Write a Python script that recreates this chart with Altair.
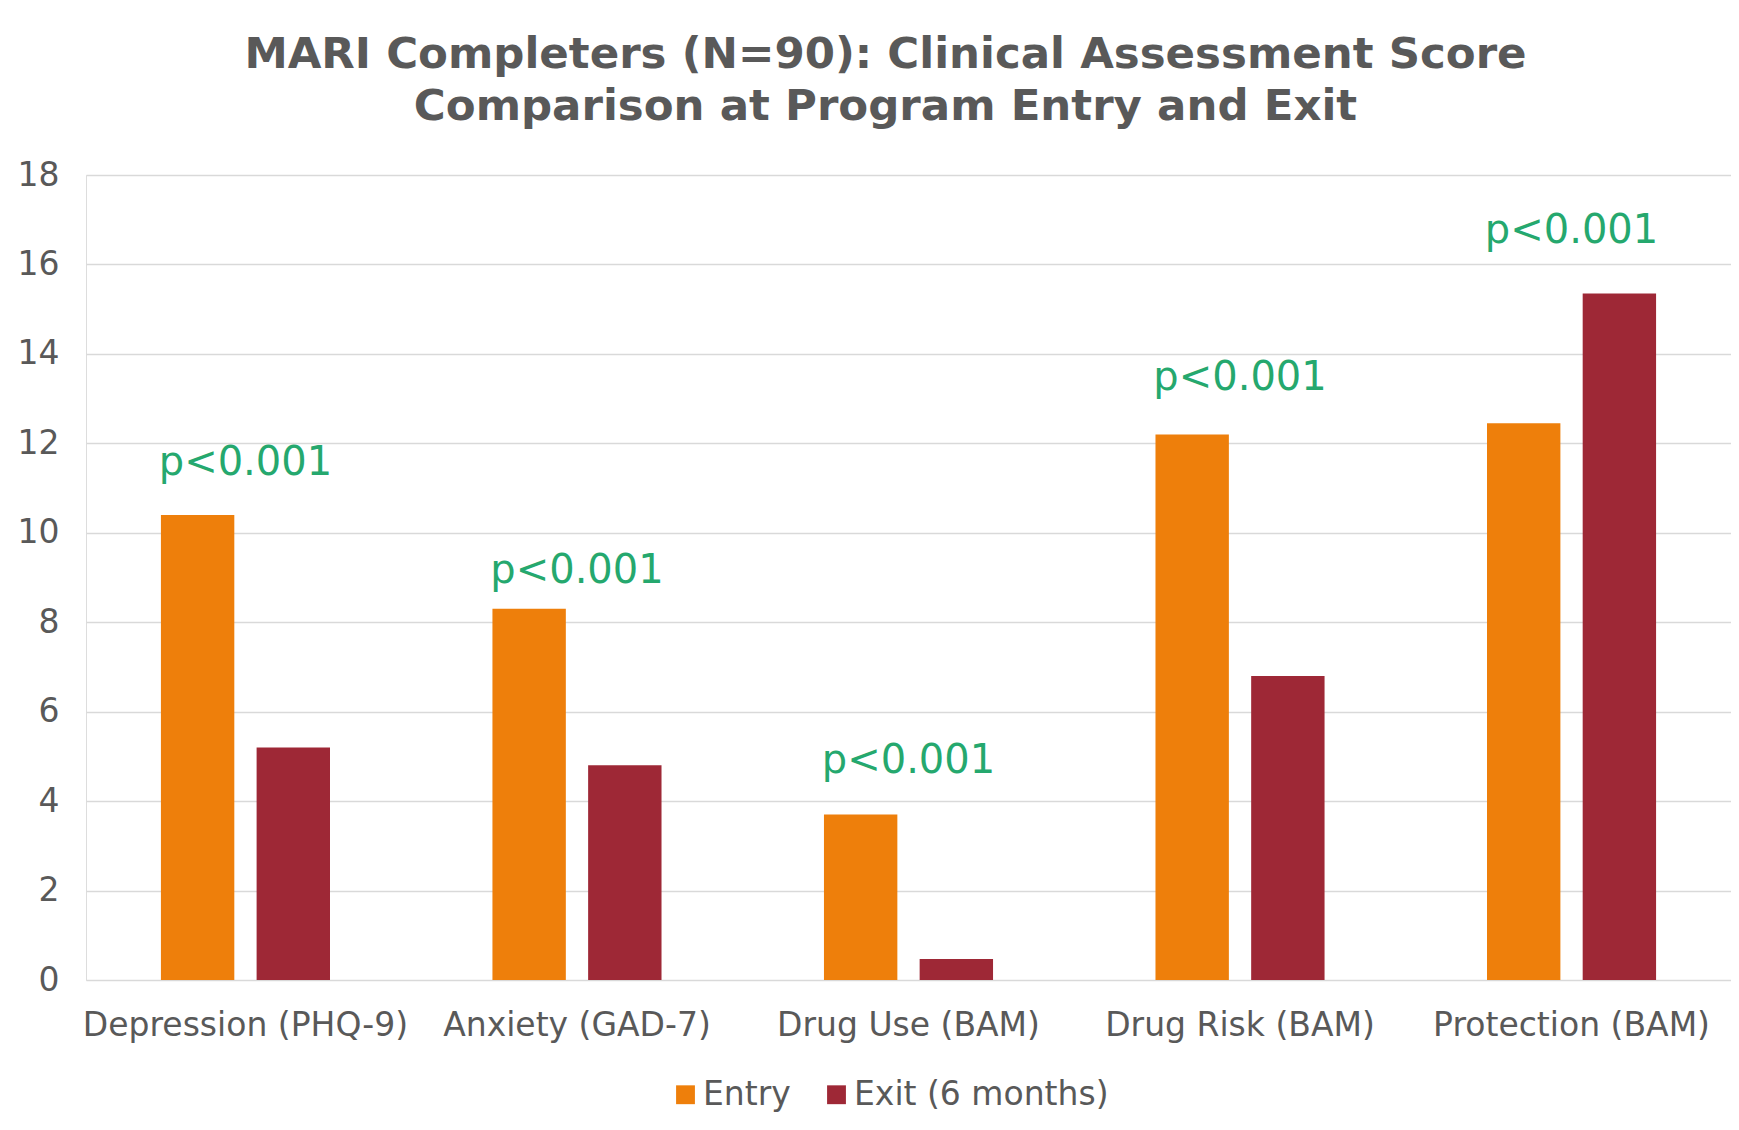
import altair as alt
import pandas as pd

categories = ["Depression (PHQ-9)", "Anxiety (GAD-7)", "Drug Use (BAM)",
              "Drug Risk (BAM)", "Protection (BAM)"]
series = ["Entry", "Exit (6 months)"]
entry_values = [10.4, 8.3, 3.7, 12.2, 12.45]
exit_values = [5.2, 4.8, 0.47, 6.8, 15.35]
p_labels = ["p<0.001", "p<0.001", "p<0.001", "p<0.001", "p<0.001"]
p_label_y = [11.55, 9.15, 4.9, 13.45, 16.75]
y_ticks = [0, 2, 4, 6, 8, 10, 12, 14, 16, 18]
colors = ["#EE7F0B", "#9E2836"]

FONT = "DejaVu Sans"
GRAY = "#595959"

rows = []
for c, e, x in zip(categories, entry_values, exit_values):
    rows.append({"category": c, "series": series[0], "value": e})
    rows.append({"category": c, "series": series[1], "value": x})
bars_df = pd.DataFrame(rows)
labels_df = pd.DataFrame({"category": categories, "label": p_labels, "y": p_label_y})

x_enc = alt.X(
    "category:N", sort=categories, title=None,
    scale=alt.Scale(paddingInner=0.49, paddingOuter=0.226),
    axis=alt.Axis(labelAngle=0, labelFontSize=33, labelColor=GRAY, labelFont=FONT,
                  labelPadding=29, ticks=False, domain=False, labelLimit=0,
                  labelOverlap=False),
)

bars = alt.Chart(bars_df).mark_bar().encode(
    x=x_enc,
    xOffset=alt.XOffset("series:N", sort=series,
                        scale=alt.Scale(paddingInner=0.233, paddingOuter=0)),
    y=alt.Y("value:Q", title=None,
            scale=alt.Scale(domain=[0, 18], nice=False),
            axis=alt.Axis(values=y_ticks, labelFontSize=33, labelColor=GRAY,
                          labelFont=FONT, labelPadding=27, ticks=False, domain=False,
                          gridColor="#D9D9D9", gridWidth=1.5)),
    color=alt.Color("series:N", scale=alt.Scale(domain=series, range=colors),
                    legend=alt.Legend(title=None, orient="none", direction="horizontal",
                                      legendX=583, legendY=903,
                                      symbolType="square", symbolSize=355,
                                      symbolStrokeWidth=0,
                                      labelFontSize=33, labelColor=GRAY, labelFont=FONT,
                                      labelLimit=0, labelOffset=1, columnPadding=29)),
)

texts = alt.Chart(labels_df).mark_text(
    fontSize=40, color="#25A86E", font=FONT, baseline="middle", align="center"
).encode(
    x=alt.X("category:N", sort=categories),
    y=alt.Y("y:Q"),
    text="label:N",
)

chart = alt.layer(bars, texts).properties(
    width=1645, height=805,
    padding={"left": 9, "top": 24, "right": 0, "bottom": 0},
    title=alt.TitleParams(
        text=["MARI Completers (N=90): Clinical Assessment Score",
              "Comparison at Program Entry and Exit"],
        fontSize=43.5, font=FONT, fontWeight="bold", color=GRAY,
        lineHeight=52, anchor="middle", offset=30, dx=-23,
    ),
).configure_view(stroke=None).configure(background="white")

chart.save("out.html", embed_options={"renderer": "svg", "actions": False})
